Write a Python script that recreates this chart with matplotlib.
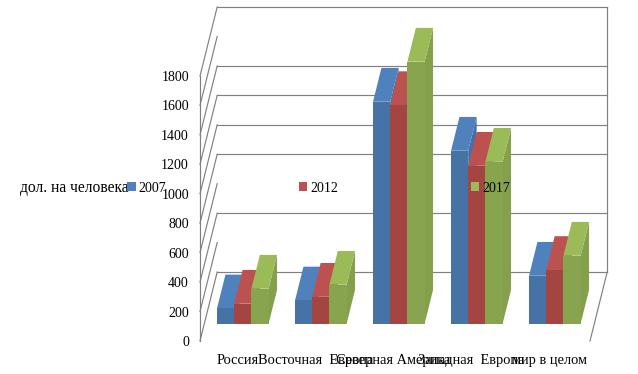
import matplotlib
matplotlib.use("Agg")
import matplotlib.pyplot as plt
from matplotlib.patches import Patch

plt.rcParams['font.family'] = ['Liberation Serif', 'DejaVu Serif']

categories = ["Россия", "Восточная  Европа", "Северная Америка", "Западная  Европа", "мир в целом"]
series_names = ["2007", "2012", "2017"]
values_2007 = [104, 158, 1508, 1175, 326]
values_2012 = [136, 183, 1485, 1073, 365]
values_2017 = [238, 265, 1780, 1100, 462]
axis_ticks = [0, 200, 400, 600, 800, 1000, 1200, 1400, 1600, 1800]
back_grid = [0, 400, 800, 1000, 1200, 1400, 1800]
y_title = "дол. на человека"

front_colors = ["#4672A5", "#A44542", "#88A44E"]
top_colors = ["#4F81BD", "#BC5250", "#9BBB59"]
side_colors = ["#4470A6", "#A54744", "#84A04A"]
grid_color = "#808080"

W, H = 638, 374
fig = plt.figure(figsize=(W / 100, H / 100), dpi=100)
ax = fig.add_axes([200 / W, 1 - 341 / H, 390 / W, 265 / H])
ax.set_xlim(0, 5)
ax.set_ylim(0, 1800)
for s in ax.spines.values():
    s.set_visible(False)
ax.patch.set_visible(False)

# oblique projection: depth 0 = front of floor, depth 1 = back wall
DX = 17.2 / 78          # category units for full depth
DY = 69 / (265 / 1800)  # value units for full depth


def proj(x, v, d):
    return x + DX * d, v + DY * d


line_kw = dict(color=grid_color, lw=0.85, clip_on=False, zorder=1)
# back wall
for v in back_grid:
    p0, p1 = proj(0, v, 1), proj(5, v, 1)
    ax.plot([p0[0], p1[0]], [p0[1], p1[1]], **line_kw)
p0, p1 = proj(5, 0, 1), proj(5, 1800, 1)
ax.plot([p0[0], p1[0]], [p0[1], p1[1]], **line_kw)
# left wall
ax.plot([0, 0], [0, 1800], **line_kw)
for v in axis_ticks:
    p0, p1 = proj(0, v, 0), proj(0, v, 1)
    ax.plot([p0[0], p1[0]], [p0[1], p1[1]], **line_kw)
# floor right edge
p0, p1 = proj(5, 0, 0), proj(5, 0, 1)
ax.plot([p0[0], p1[0]], [p0[1], p1[1]], **line_kw)

# bars
group_start = 0.163
bar_w = 0.2205
d0, d1 = 0.25, 0.74
series = [values_2007, values_2012, values_2017]


def poly(pts, color, z):
    ax.fill([p[0] for p in pts], [p[1] for p in pts], color=color, lw=0,
            clip_on=False, zorder=z)


z = 2
for i in range(len(categories)):
    for j, vals in enumerate(series):
        x0 = i + group_start + j * bar_w
        x1 = x0 + bar_w
        v = vals[i]
        poly([proj(x1, 0, d0), proj(x1, 0, d1), proj(x1, v, d1), proj(x1, v, d0)], side_colors[j], z)
        poly([proj(x0, v, d0), proj(x1, v, d0), proj(x1, v, d1), proj(x0, v, d1)], top_colors[j], z)
        poly([proj(x0, 0, d0), proj(x1, 0, d0), proj(x1, v, d0), proj(x0, v, d0)], front_colors[j], z)
        z += 0.01

ax.set_xticks([i + 0.48 for i in range(len(categories))])
ax.set_xticklabels(categories, fontsize=10.4, color="black")
ax.set_yticks(axis_ticks)
ax.set_yticklabels([str(t) for t in axis_ticks], fontsize=10, color="black")
ax.tick_params(axis='x', length=0, pad=9.3)
ax.tick_params(axis='y', length=0, pad=8)

fig.text(20 / W, 1 - 188 / H, y_title, fontsize=11.2, ha='left', va='center', color="black", zorder=20)

handles = [Patch(color=c, lw=0) for c in top_colors]
leg = fig.legend(handles, series_names, ncols=3, loc='center left',
                 bbox_to_anchor=(127 / W, 1 - 188 / H), frameon=False,
                 fontsize=10, borderpad=0, borderaxespad=0,
                 handlelength=0.62, handleheight=0.62, handletextpad=0.2,
                 columnspacing=9.55)
leg.set_zorder(20)

fig.savefig("out.png", dpi=100)
